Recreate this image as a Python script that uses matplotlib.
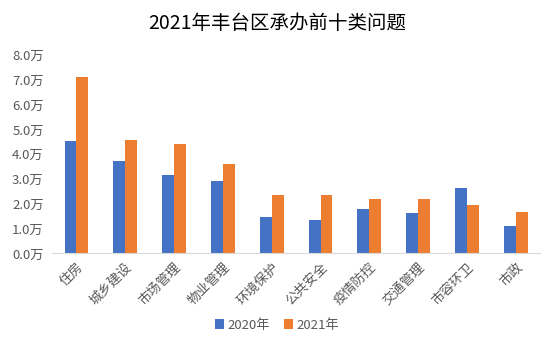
import numpy as np
import matplotlib
matplotlib.use("Agg")
import matplotlib.pyplot as plt
from matplotlib.ticker import FuncFormatter

plt.rcParams['font.family'] = ['Noto Sans CJK SC', 'DejaVu Sans']

categories = ["住房", "城乡建设", "市场管理", "物业管理", "环境保护",
              "公共安全", "疫情防控", "交通管理", "市容环卫", "市政"]
values_2020 = [4.55, 3.73, 3.17, 2.92, 1.47, 1.35, 1.79, 1.63, 2.64, 1.10]
values_2021 = [7.14, 4.59, 4.42, 3.62, 2.36, 2.36, 2.20, 2.20, 1.96, 1.67]
series_names = ["2020年", "2021年"]

def main():
    fig = plt.figure(figsize=(5.54, 3.37), dpi=100)
    ax = fig.add_axes([0.094, 0.248, 0.881, 0.588])

    x = np.arange(len(categories))
    w = 0.245
    ax.bar(x - w / 2, values_2020, w, color="#4472C4", label=series_names[0])
    ax.bar(x + w / 2, values_2021, w, color="#ED7D31", label=series_names[1])

    ax.set_xlim(-0.5, len(categories) - 0.5)
    ax.set_ylim(0, 8.0)
    ax.set_yticks(np.arange(0, 8.1, 1.0))
    ax.yaxis.set_major_formatter(FuncFormatter(lambda v, p: "%.1f万" % v))
    ax.set_xticks(x)
    ax.set_xticklabels(categories, rotation=45, ha="right", rotation_mode="anchor")

    for s in ["top", "right", "left"]:
        ax.spines[s].set_visible(False)
    ax.spines["bottom"].set_color("#D9D9D9")
    ax.tick_params(axis="both", length=0, colors="#595959", labelsize=9.5)
    ax.tick_params(axis="x", pad=5)
    ax.tick_params(axis="y", pad=6)

    fig.text(0.5, 0.93, "2021年丰台区承办前十类问题", ha="center", va="center",
             fontsize=14, color="#000000")

    fig.legend(loc="center", bbox_to_anchor=(0.5, 0.035), ncol=2, frameon=False,
               fontsize=9.5, handlelength=0.7, handleheight=0.7, handletextpad=0.3,
               columnspacing=1.0, labelcolor="#595959")

    fig.savefig("out.png", dpi=100)

if __name__ == "__main__":
    main()
